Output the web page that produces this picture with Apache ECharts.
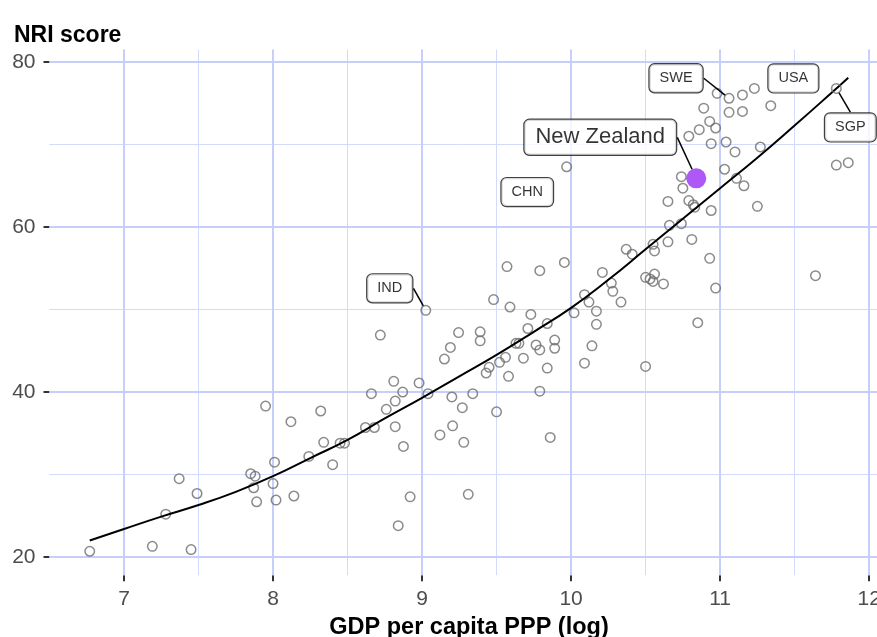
<!DOCTYPE html>
<html>
<head>
<meta charset="utf-8">
<script src="https://cdn.jsdelivr.net/npm/echarts@6/dist/echarts.min.js"></script>
<style>
  html, body { margin: 0; padding: 0; background: #fff; }
  #chart { width: 877px; height: 637px; }
</style>
</head>
<body>
<div id="chart"></div>
<script>
// all countries, log GDP per capita PPP vs NRI score
var gdpLog = [6.77, 7.19, 7.45, 7.28, 7.37, 7.49, 7.95, 7.85, 7.88, 7.87, 7.89, 8.01, 8.00, 8.02, 8.12, 8.14,
    8.32, 8.24, 8.34, 8.40, 8.45, 8.48, 8.72, 8.66, 8.62, 8.68, 8.76, 8.81, 8.82, 8.87, 8.82, 8.875,
    8.92, 8.84, 8.98, 9.04, 9.12, 9.15, 9.19, 9.20, 9.205, 9.27, 9.28, 9.31, 9.34, 9.245, 9.39, 9.39,
    9.43, 9.45, 9.50, 9.48, 9.59, 9.52, 9.56, 9.58, 9.63, 9.65, 9.68, 9.71, 9.73, 9.765, 9.79, 9.79,
    9.84, 9.84, 9.89, 9.89, 9.86, 10.14, 10.09, 10.50, 9.97, 10.74, 10.75, 10.65, 10.79, 10.82, 10.83, 10.94,
    11.03, 11.10, 11.11, 11.16, 10.66, 10.74, 10.65, 10.81, 10.93, 10.97, 10.85, 10.37, 10.41, 10.55, 10.56, 9.955,
    9.79, 10.21, 10.27, 10.28, 10.335, 10.09, 10.12, 10.02, 10.17, 10.17, 10.50, 10.53, 10.56, 10.55, 10.62, 9.57,
    10.98, 11.15, 10.89, 11.06, 11.15, 11.34, 10.93, 10.97, 10.86, 10.79, 10.94, 11.04, 11.27, 11.25, 11.64, 11.78,
    11.86];
var nriScore = [20.7, 21.3, 20.9, 25.2, 29.5, 27.7, 38.3, 30.1, 29.8, 28.4, 26.7, 31.5, 28.9, 26.9, 36.4, 27.4,
    37.7, 32.2, 33.9, 31.2, 33.8, 33.8, 46.9, 39.8, 35.7, 35.7, 37.9, 41.3, 38.9, 40.0, 35.8, 33.4,
    27.3, 23.8, 41.1, 39.8, 34.8, 44.0, 45.4, 39.4, 35.9, 38.1, 33.9, 27.6, 39.8, 47.2, 47.3, 46.2,
    42.3, 43.0, 37.6, 51.2, 50.3, 43.6, 44.2, 41.9, 45.9, 45.9, 44.1, 47.7, 49.4, 45.7, 45.1, 40.1,
    42.9, 48.3, 46.3, 45.3, 34.5, 45.6, 43.5, 43.1, 67.3, 66.1, 64.7, 63.1, 63.2, 62.7, 62.4, 62.0,
    67.0, 69.1, 65.9, 65.0, 60.2, 60.4, 58.2, 58.5, 56.2, 52.6, 48.4, 57.3, 56.7, 57.9, 57.1, 55.7,
    54.7, 54.5, 53.2, 52.2, 50.9, 51.8, 50.9, 49.6, 49.8, 48.2, 53.9, 53.7, 54.3, 53.4, 53.1, 55.2,
    76.2, 76.0, 74.4, 73.9, 74.0, 74.7, 72.8, 72.0, 71.8, 71.0, 70.1, 70.3, 69.7, 62.5, 54.1, 67.5,
    67.8];

// labelled countries
var labelCodes = ['SWE', 'USA', 'SGP', 'CHN', 'IND'];
var labelGdp = [11.06, 11.23, 11.78, 9.84, 9.025];
var labelNri = [75.6, 76.8, 76.8, 63.5, 49.9];

var nzName = 'New Zealand';
var nzGdp = 10.84;
var nzNri = 65.9;

// fitted trend line
var fitGdp = [6.77, 7.0, 7.25, 7.5, 7.75, 8.0, 8.25, 8.5, 8.75, 9.0, 9.25, 9.5, 9.75, 10.0, 10.25, 10.5,
    10.75, 11.0, 11.25, 11.5, 11.75, 11.86];
var fitNri = [22.0, 23.4, 24.9, 26.3, 27.9, 29.8, 32.0, 34.2, 36.8, 39.3, 41.9, 44.5, 47.3, 50.2, 53.6, 57.3,
    61.0, 64.7, 68.4, 72.3, 76.3, 78.1];

// axis ticks
var xMajor = [7, 8, 9, 10, 11, 12];
var xMinor = [7.5, 8.5, 9.5, 10.5, 11.5];
var yMajor = [20, 40, 60, 80];
var yMinor = [30, 50, 70];

var FONT = '"Liberation Sans", Arial, sans-serif';
var majorLine = { color: '#c6cefc', width: 2, type: 'solid' };
var minorLine = { color: '#d4dafe', width: 1, type: 'solid' };

// where each label box sits relative to its point
var labelShift = {
    'SWE': [-53, -20],
    'USA': [39, -10],
    'SGP': [14, 39],
    'CHN': [-20, -6],
    'IND': [-36, -22],
    'New Zealand': [-96, -41]
};

var points = gdpLog.map(function (g, i) { return [g, nriScore[i]]; });
var fitLine = fitGdp.map(function (g, i) { return [g, fitNri[i]]; });
var labelled = labelCodes.map(function (c, i) {
    var item = { name: c, value: [labelGdp[i], labelNri[i]] };
    if (c === 'USA' || c === 'CHN') item.labelLine = { show: false };
    // CHN sits under its own label box
    if (c === 'CHN') item.itemStyle = { borderColor: 'rgba(0,0,0,0)' };
    return item;
});

var gridLines = [];
xMinor.forEach(function (v) { gridLines.push({ xAxis: v, lineStyle: minorLine }); });
yMinor.forEach(function (v) { gridLines.push({ yAxis: v, lineStyle: minorLine }); });
xMajor.forEach(function (v) { gridLines.push({ xAxis: v, lineStyle: majorLine }); });
yMajor.forEach(function (v) { gridLines.push({ yAxis: v, lineStyle: majorLine }); });

var boxLabel = {
    show: true,
    position: 'inside',
    formatter: '{b}',
    fontFamily: FONT,
    fontSize: 14.5,
    color: '#000',
    backgroundColor: '#fff',
    borderColor: '#111',
    borderWidth: 1.2,
    borderRadius: 5,
    padding: [7, 10, 6, 10]
};

function shiftLabel(p) {
    var s = labelShift[p.text] || [0, 0];
    return { dx: s[0], dy: s[1] };
}

var chart = echarts.init(document.getElementById('chart'), null, { renderer: 'canvas' });

chart.setOption({
    animation: false,
    backgroundColor: '#fff',
    title: {
        text: 'NRI score',
        left: 9,
        top: 19,
        textStyle: { fontFamily: FONT, fontSize: 23, fontWeight: 'bold', color: '#000' }
    },
    grid: { left: 49.5, top: 49.6, width: 839, height: 525.6, outerBoundsMode: 'none', containLabel: false },
    xAxis: {
        type: 'value',
        min: 6.5,
        max: 12.13,
        name: 'GDP per capita PPP (log)',
        nameLocation: 'middle',
        nameGap: 39,
        nameTextStyle: { fontFamily: FONT, fontSize: 23.5, fontWeight: 'bold', color: '#000' },
        axisLine: { show: false },
        axisTick: { show: true, length: 6, customValues: xMajor, lineStyle: { color: '#333', width: 2 } },
        axisLabel: {
            customValues: xMajor,
            margin: 14,
            fontFamily: FONT,
            fontSize: 21,
            color: '#4d4d4d',
            formatter: function (v) { return v % 1 === 0 ? String(v) : ''; }
        },
        splitLine: { show: false }
    },
    yAxis: {
        type: 'value',
        min: 17.8,
        max: 81.5,
        axisLine: { show: false },
        axisTick: { show: true, length: 6, customValues: yMajor, lineStyle: { color: '#333', width: 2 } },
        axisLabel: {
            customValues: yMajor,
            margin: 14,
            fontFamily: FONT,
            fontSize: 21,
            color: '#4d4d4d',
            formatter: function (v) { return v % 10 === 0 ? String(v) : ''; }
        },
        splitLine: { show: false }
    },
    series: [
        {
            // panel grid
            type: 'scatter',
            data: [],
            silent: true,
            markLine: {
                silent: true,
                symbol: 'none',
                label: { show: false },
                animation: false,
                data: gridLines
            }
        },
        {
            name: 'countries',
            type: 'scatter',
            z: 10,
            symbol: 'circle',
            symbolSize: 9.5,
            itemStyle: { color: 'rgba(0,0,0,0)', borderColor: '#6e6e6e', borderWidth: 1.5 },
            data: points
        },
        {
            name: 'trend',
            type: 'line',
            z: 11,
            smooth: true,
            showSymbol: false,
            lineStyle: { color: '#000', width: 2 },
            data: fitLine
        },
        {
            name: 'labelled',
            type: 'scatter',
            z: 12,
            symbol: 'circle',
            symbolSize: 9.5,
            itemStyle: { color: 'rgba(0,0,0,0)', borderColor: '#6e6e6e', borderWidth: 1.5 },
            label: boxLabel,
            labelLine: { show: true, lineStyle: { color: '#000', width: 1.5 } },
            labelLayout: shiftLabel,
            data: labelled
        },
        {
            name: nzName,
            type: 'scatter',
            z: 13,
            symbol: 'circle',
            symbolSize: 20,
            itemStyle: { color: '#9a2ff5' },
            label: echarts.util.extend(echarts.util.clone(boxLabel), {
                fontSize: 22,
                padding: [7, 11, 6, 11]
            }),
            labelLine: { show: true, lineStyle: { color: '#000', width: 1.5 } },
            labelLayout: shiftLabel,
            data: [{ name: nzName, value: [nzGdp, nzNri] }]
        }
    ]
});
</script>
</body>
</html>
